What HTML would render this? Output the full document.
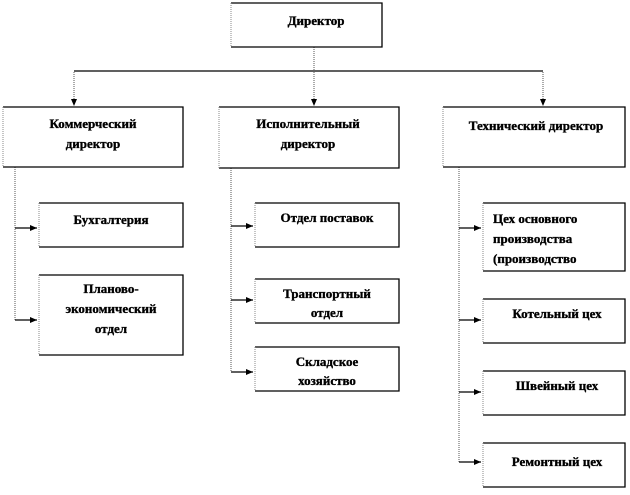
<!DOCTYPE html>
<html><head><meta charset="utf-8"><style>
body{margin:0;background:#fff;width:630px;height:490px;overflow:hidden}
text{font-family:"Liberation Serif",serif;font-weight:bold;font-size:13px;fill:#000;stroke:#000;stroke-width:0.35}
</style></head><body>
<svg width="630" height="490" viewBox="0 0 630 490" xmlns="http://www.w3.org/2000/svg">
<defs>
<marker id="a" markerWidth="8" markerHeight="8" refX="7" refY="4" orient="auto" markerUnits="userSpaceOnUse">
<path d="M0,1 L7,4 L0,7z" fill="#000"/></marker>
</defs>
<g fill="none" stroke="#555" stroke-width="1" stroke-dasharray="1,1">
<line x1="314" y1="47" x2="314" y2="71"/>
<line x1="74" y1="72" x2="74" y2="106" marker-end="url(#a)"/>
<line x1="314" y1="72" x2="314" y2="106" marker-end="url(#a)"/>
<line x1="543" y1="72" x2="543" y2="106" marker-end="url(#a)"/>
<polyline points="15,167 15,320"/>
<polyline points="231,168 231,372"/>
<polyline points="459,167 459,462"/>
</g>
<line x1="74" y1="71" x2="543" y2="71" stroke="#000" stroke-width="1.2"/>
<g stroke="#000" stroke-width="1.2">
<line x1="15" y1="228" x2="37" y2="228" marker-end="url(#a)"/>
<line x1="15" y1="320" x2="37" y2="320" marker-end="url(#a)"/>
<line x1="231" y1="226" x2="253" y2="226" marker-end="url(#a)"/>
<line x1="231" y1="300" x2="253" y2="300" marker-end="url(#a)"/>
<line x1="231" y1="372" x2="253" y2="372" marker-end="url(#a)"/>
<line x1="459" y1="228" x2="481" y2="228" marker-end="url(#a)"/>
<line x1="459" y1="320" x2="481" y2="320" marker-end="url(#a)"/>
<line x1="459" y1="392" x2="481" y2="392" marker-end="url(#a)"/>
<line x1="459" y1="462" x2="481" y2="462" marker-end="url(#a)"/>
</g>
<g fill="none">
<path d="M231,3 H382 V47 H231" stroke="#000" stroke-width="1.3"/><line x1="231" y1="3" x2="231" y2="47" stroke="#888" stroke-dasharray="1,1"/>
<path d="M3,107 H183 V167 H3" stroke="#000" stroke-width="1.3"/><line x1="3" y1="107" x2="3" y2="167" stroke="#888" stroke-dasharray="1,1"/>
<path d="M219,107 H399 V168 H219" stroke="#000" stroke-width="1.3"/><line x1="219" y1="107" x2="219" y2="168" stroke="#888" stroke-dasharray="1,1"/>
<path d="M443,107 H625 V167 H443" stroke="#000" stroke-width="1.3"/><line x1="443" y1="107" x2="443" y2="167" stroke="#888" stroke-dasharray="1,1"/>
<path d="M39,203 H183 V247 H39" stroke="#000" stroke-width="1.3"/><line x1="39" y1="203" x2="39" y2="247" stroke="#888" stroke-dasharray="1,1"/>
<path d="M39,275 H183 V355 H39" stroke="#000" stroke-width="1.3"/><line x1="39" y1="275" x2="39" y2="355" stroke="#888" stroke-dasharray="1,1"/>
<path d="M255,203 H399 V247 H255" stroke="#000" stroke-width="1.3"/><line x1="255" y1="203" x2="255" y2="247" stroke="#888" stroke-dasharray="1,1"/>
<path d="M255,279 H399 V323 H255" stroke="#000" stroke-width="1.3"/><line x1="255" y1="279" x2="255" y2="323" stroke="#888" stroke-dasharray="1,1"/>
<path d="M255,347 H399 V391 H255" stroke="#000" stroke-width="1.3"/><line x1="255" y1="347" x2="255" y2="391" stroke="#888" stroke-dasharray="1,1"/>
<path d="M483,203 H625 V271 H483" stroke="#000" stroke-width="1.3"/><line x1="483" y1="203" x2="483" y2="271" stroke="#888" stroke-dasharray="1,1"/>
<path d="M483,299 H625 V343 H483" stroke="#000" stroke-width="1.3"/><line x1="483" y1="299" x2="483" y2="343" stroke="#888" stroke-dasharray="1,1"/>
<path d="M483,371 H625 V415 H483" stroke="#000" stroke-width="1.3"/><line x1="483" y1="371" x2="483" y2="415" stroke="#888" stroke-dasharray="1,1"/>
<path d="M483,443 H625 V487 H483" stroke="#000" stroke-width="1.3"/><line x1="483" y1="443" x2="483" y2="487" stroke="#888" stroke-dasharray="1,1"/>
</g>
<g text-anchor="middle">
<text x="316" y="25">Директор</text>
<text x="93" y="128">Коммерческий</text>
<text x="93" y="148">директор</text>
<text x="308" y="128">Исполнительный</text>
<text x="308" y="148">директор</text>
<text x="536" y="130">Технический директор</text>
<text x="111" y="224">Бухгалтерия</text>
<text x="111" y="293">Планово-</text>
<text x="111" y="313">экономический</text>
<text x="111" y="333">отдел</text>
<text x="327" y="222">Отдел поставок</text>
<text x="327" y="298">Транспортный</text>
<text x="327" y="317">отдел</text>
<text x="327" y="366">Складское</text>
<text x="327" y="385">хозяйство</text>
<text x="557" y="318">Котельный цех</text>
<text x="557" y="390">Швейный цех</text>
<text x="557" y="466">Ремонтный цех</text>
</g>
<text x="493" y="223">Цех основного</text>
<text x="493" y="243">производства</text>
<text x="493" y="263">(производство</text>
</svg>
</body></html>
